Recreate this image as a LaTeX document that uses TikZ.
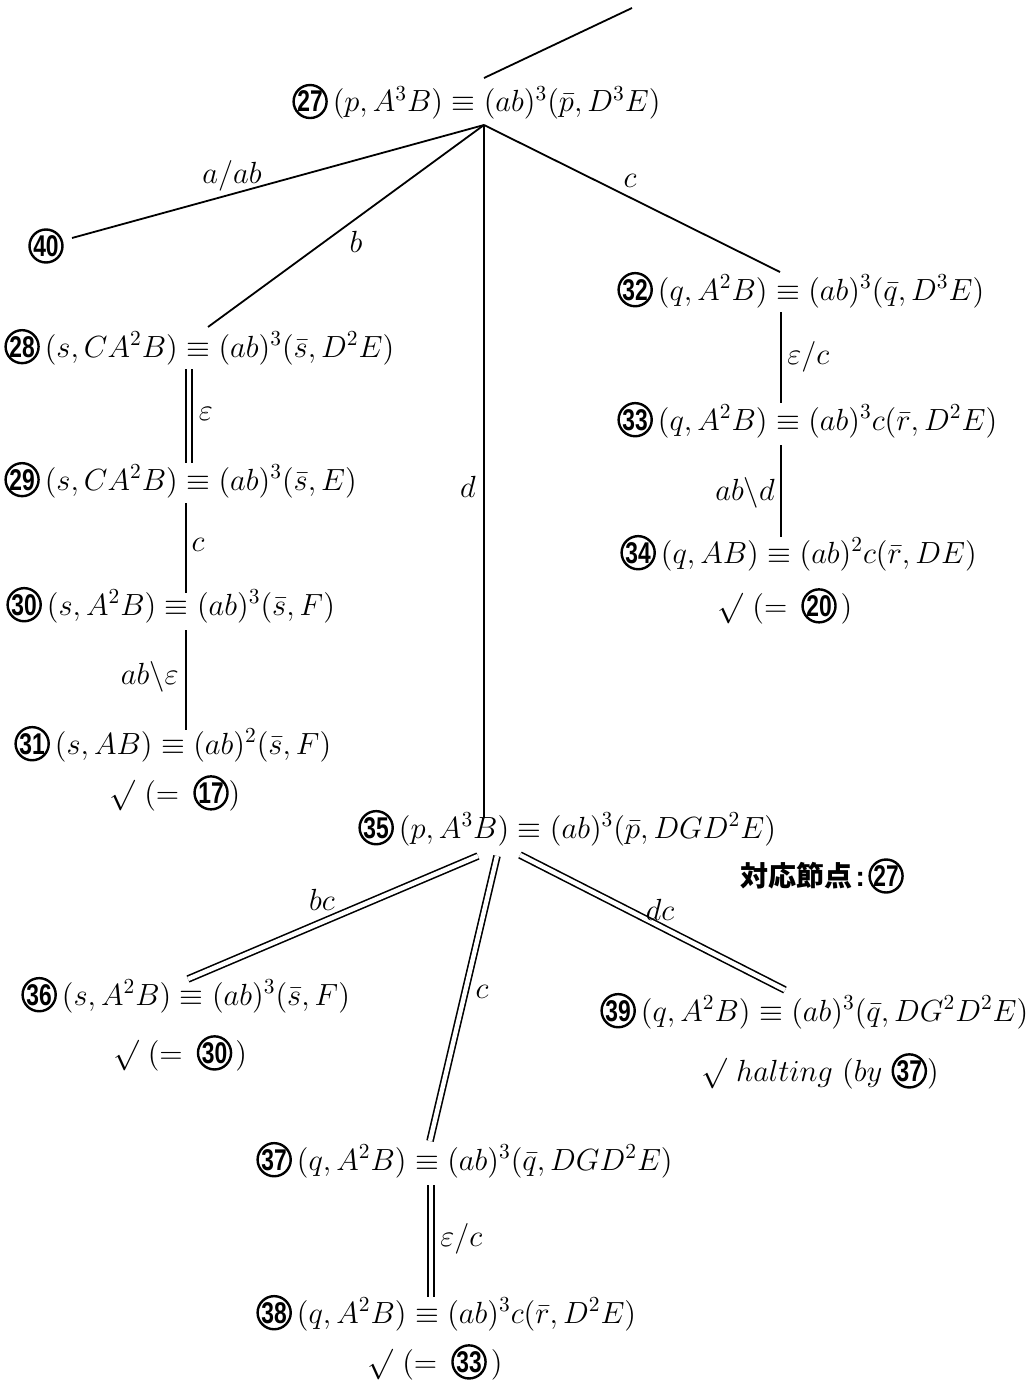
\RequirePackage{fix-cm}
\documentclass[tikz,border=0pt]{standalone}
\usepackage{fontspec}
\usepackage{graphicx}
\newfontfamily\cnfont{Liberation Sans}
\newfontfamily\jpfont{Noto Sans CJK JP}
\tikzset{
  cnstyle/.style={circle,draw,line width=1.2pt,inner sep=0pt,minimum size=16.5pt,
    font=\cnfont\bfseries\fontsize{15}{15}\selectfont},
  st/.style={anchor=base west,inner sep=0pt,font=\fontsize{15.3}{18}\selectfont},
  lbl/.style={inner sep=0pt,font=\fontsize{15.3}{18}\selectfont},
  edge/.style={line width=0.9pt},
  dbl/.style={line width=0.8pt,double,double distance=2.2pt},
}
\newcommand{\cn}[1]{\tikz[baseline=(cnnode.base)]\node[cnstyle](cnnode){\scalebox{0.76}[1]{#1}};}
\begin{document}
\begin{tikzpicture}[x=0.5pt,y=-0.5pt]
\fill[white] (0,0) rectangle (1032,1380);
\useasboundingbox (0,0) rectangle (1032,1380);

% states
\node[st] (n27) at (292,112) {\cn{27}\hspace{2.5pt}$(p,A^3B)\equiv(ab)^3(\bar p,D^3E)$};
\node[cnstyle] (n40) at (46,246) {\scalebox{0.76}[1]{40}};
\node[st] (n28) at (4,357) {\cn{28}\hspace{2.5pt}$(s,CA^2B)\equiv(ab)^3(\bar s,D^2E)$};
\node[st] (n29) at (4,490) {\cn{29}\hspace{2.5pt}$(s,CA^2B)\equiv(ab)^3(\bar s,E)$};
\node[st] (n30) at (6,615) {\cn{30}\hspace{2.5pt}$(s,A^2B)\equiv(ab)^3(\bar s,F)$};
\node[st] (n31) at (14,754) {\cn{31}\hspace{2.5pt}$(s,AB)\equiv(ab)^2(\bar s,F)$};
\node[lbl] (k31) at (175,793) {$\surd\ (=$\hspace{7pt}\cn{17}$)$};
\node[st] (n32) at (617,300) {\cn{32}\hspace{2.5pt}$(q,A^2B)\equiv(ab)^3(\bar q,D^3E)$};
\node[st] (n33) at (617,430) {\cn{33}\hspace{2.5pt}$(q,A^2B)\equiv(ab)^3c(\bar r,D^2E)$};
\node[st] (n34) at (620,563) {\cn{34}\hspace{2.5pt}$(q,AB)\equiv(ab)^2c(\bar r,DE)$};
\node[lbl] (k34) at (785,606) {$\surd\ (=$\hspace{7pt}\cn{20}\hspace{2pt}$)$};
\node[st] (n35) at (358,838) {\cn{35}\hspace{2.5pt}$(p,A^3B)\equiv(ab)^3(\bar p,DGD^2E)$};
\node[anchor=west,inner sep=0pt] (cor) at (740,876)
  {{\jpfont\bfseries\fontsize{14}{15}\selectfont 対応節点}\,{\cnfont\bfseries\fontsize{14}{15}\selectfont :}\,\cn{27}};
\node[st] (n36) at (21,1005) {\cn{36}\hspace{2.5pt}$(s,A^2B)\equiv(ab)^3(\bar s,F)$};
\node[lbl] (k36) at (180,1053) {$\surd\ (=$\hspace{7pt}\cn{30}\hspace{1.5pt}$)$};
\node[st] (n39) at (600,1021) {\cn{39}\hspace{2.5pt}$(q,A^2B)\equiv(ab)^3(\bar q,DG^2D^2E)$};
\node[lbl] (k39) at (820,1071) {$\surd\ halting\ (by$ \cn{37}$)$};
\node[st] (n37) at (256,1170) {\cn{37}\hspace{2.5pt}$(q,A^2B)\equiv(ab)^3(\bar q,DGD^2E)$};
\node[st] (n38) at (256,1323) {\cn{38}\hspace{2.5pt}$(q,A^2B)\equiv(ab)^3c(\bar r,D^2E)$};
\node[lbl] (k38) at (435,1362) {$\surd\ (=$\hspace{7pt}\cn{33}\hspace{2pt}$)$};

% connector end points
\coordinate (top) at (632,8);
\coordinate (t27) at (484,78);
\coordinate (b27) at (484,125);
\coordinate (t40) at (72,238);
\coordinate (t28) at (208,327);
\coordinate (t35) at (484,818);
\coordinate (t32) at (780,272);
\coordinate (b28) at (189,369);
\coordinate (t29) at (189,463);
\coordinate (b29) at (186,503);
\coordinate (t30) at (186,593);
\coordinate (b30) at (186,630);
\coordinate (t31) at (186,730);
\coordinate (b32) at (781,312);
\coordinate (t33) at (781,403);
\coordinate (b33) at (781,445);
\coordinate (t34) at (781,537);
\coordinate (b35a) at (478,856);
\coordinate (t36) at (188,979);
\coordinate (b35b) at (497,856);
\coordinate (t37) at (430,1141);
\coordinate (b35c) at (520,855);
\coordinate (t39) at (785,990);
\coordinate (b37) at (431,1185);
\coordinate (t38) at (431,1297);

% connectors
\draw[edge] (top) -- (t27);
\draw[edge] (b27) -- (t40);
\draw[edge] (b27) -- (t28);
\draw[edge] (b27) -- (t35);
\draw[edge] (b27) -- (t32);
\draw[dbl] (b28) -- (t29);
\draw[edge] (b29) -- (t30);
\draw[edge] (b30) -- (t31);
\draw[edge] (b32) -- (t33);
\draw[edge] (b33) -- (t34);
\draw[dbl] (b35a) -- (t36);
\draw[dbl] (b35b) -- (t37);
\draw[dbl] (b35c) -- (t39);
\draw[dbl] (b37) -- (t38);

% labels
\node[lbl] (l1) at (232,176) {$a/ab$};
\node[lbl] (l2) at (356,242) {$b$};
\node[lbl] (l3) at (468,487) {$d$};
\node[lbl] (l4) at (630,181) {$c$};
\node[lbl] (l5) at (206,414) {$\varepsilon$};
\node[lbl] (l6) at (198,545) {$c$};
\node[lbl,anchor=east] (l7) at (179,677) {$ab\backslash\varepsilon$};
\node[lbl,anchor=west] (l8) at (787,357) {$\varepsilon/c$};
\node[lbl,anchor=east] (l9) at (775,493) {$ab\backslash d$};
\node[lbl] (l10) at (322,900) {$bc$};
\node[lbl] (l11) at (482,992) {$c$};
\node[lbl] (l12) at (660,910) {$dc$};
\node[lbl,anchor=west] (l13) at (440,1239) {$\varepsilon/c$};
\end{tikzpicture}
\end{document}
